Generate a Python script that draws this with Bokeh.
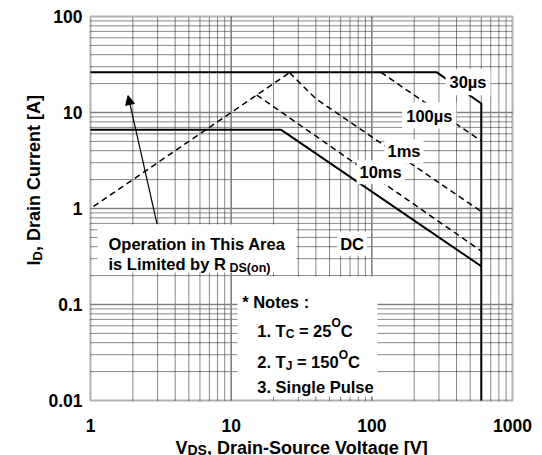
import math
from bokeh.plotting import figure
from bokeh.models import Range1d, Label, Arrow, NormalHead, BoxAnnotation
from bokeh.embed import file_html
from bokeh.resources import INLINE

# ---------------- data ----------------
x_major_ticks = [1, 10, 100, 1000]
x_tick_labels = ["1", "10", "100", "1000"]
x_minor_ticks = [2, 3, 4, 5, 6, 7, 8, 9, 20, 30, 40, 50, 60, 70, 80, 90,
                 200, 300, 400, 500, 600, 700, 800, 900]
y_major_ticks = [0.01, 0.1, 1, 10, 100]
y_tick_labels = ["0.01", "0.1", "1", "10", "100"]
y_minor_ticks = [0.02, 0.03, 0.04, 0.05, 0.06, 0.07, 0.08, 0.09,
                 0.2, 0.3, 0.4, 0.5, 0.6, 0.7, 0.8, 0.9,
                 2, 3, 4, 5, 6, 7, 8, 9, 20, 30, 40, 50, 60, 70, 80, 90]

# RDS(on) limit (dashed)
rds_v = [1.05, 26.0]
rds_i = [1.05, 26.0]
# 30 us (solid, incl. BVDSS vertical)
us30_v = [1.0, 290.0, 600.0, 600.0]
us30_i = [26.2, 26.2, 12.4, 0.01]
# 100 us (dashed)
us100_v = [116.0, 600.0]
us100_i = [26.2, 5.05]
# 1 ms (dashed)
ms1_v = [26.0, 40.0, 600.0]
ms1_i = [26.0, 13.9, 0.93]
# 10 ms (dashed)
ms10_v = [15.2, 600.0]
ms10_i = [15.2, 0.36]
# DC (solid)
dc_v = [1.0, 22.7, 600.0]
dc_i = [6.6, 6.6, 0.25]

arrow_from = [2.97, 0.69]
arrow_to = [1.85, 15.0]

FONT = "Liberation Sans"

# ---------------- layout constants (page pixels) ----------------
CW, CH = 540, 455                       # canvas
PL, PT, PR, PB = 90.0, 16.0, 512.0, 400.0   # plotting area edges
X_MIN, X_MAX = 1.0, 1000.0
Y_MIN, Y_MAX = 0.01, 100.0
dx = (math.log10(X_MAX) - math.log10(X_MIN)) / (PR - PL)
dy = (math.log10(Y_MAX) - math.log10(Y_MIN)) / (PB - PT)
x_lo = 10 ** (math.log10(X_MIN) - PL * dx)
x_hi = 10 ** (math.log10(X_MAX) + (CW - PR) * dx)
y_lo = 10 ** (math.log10(Y_MIN) - (CH - PB) * dy)
y_hi = 10 ** (math.log10(Y_MAX) + PT * dy)

p = figure(width=CW, height=CH, x_axis_type="log", y_axis_type="log",
           x_range=Range1d(x_lo, x_hi), y_range=Range1d(y_lo, y_hi),
           x_axis_location=None, y_axis_location=None, title=None,
           output_backend="svg", toolbar_location=None,
           min_border=0, min_border_left=0, min_border_right=0,
           min_border_top=0, min_border_bottom=0)
p.background_fill_color = "white"
p.border_fill_color = "white"
p.outline_line_color = None
p.xgrid.visible = False
p.ygrid.visible = False

# ---------------- grid ----------------
nxm, nym = len(x_minor_ticks), len(y_minor_ticks)
MINOR = dict(line_color="#111111", line_width=1, line_dash="1 1")
MAJOR = dict(line_color="#808080", line_width=1.6)
p.segment(x0=x_minor_ticks, y0=[Y_MIN] * nxm, x1=x_minor_ticks, y1=[Y_MAX] * nxm, **MINOR)
p.segment(x0=[X_MIN] * nym, y0=y_minor_ticks, x1=[X_MAX] * nym, y1=y_minor_ticks, **MINOR)
xm_in = x_major_ticks[1:-1]
ym_in = y_major_ticks[1:-1]
p.segment(x0=xm_in, y0=[Y_MIN] * len(xm_in), x1=xm_in, y1=[Y_MAX] * len(xm_in), **MAJOR)
p.segment(x0=[X_MIN] * len(ym_in), y0=ym_in, x1=[X_MAX] * len(ym_in), y1=ym_in, **MAJOR)

# ---------------- curves ----------------
SOLID = dict(line_color="black", line_width=2, line_join="round")
DASH = dict(line_color="black", line_width=1.5, line_dash="6 4", line_join="round")
p.line(rds_v, rds_i, **DASH)
p.line(ms1_v, ms1_i, **DASH)
p.line(ms10_v, ms10_i, **DASH)
p.line(us100_v, us100_i, **DASH)
p.line(us30_v, us30_i, **SOLID)
p.line(dc_v, dc_i, **SOLID)


def sbox(l, r, t, b):
    p.add_layout(BoxAnnotation(left=l, right=r, top=CH - t, bottom=CH - b,
                               left_units="screen", right_units="screen",
                               top_units="screen", bottom_units="screen",
                               fill_color="white", fill_alpha=1, line_color=None))


# white boxes behind the notes
sbox(97, 296, 224, 272)
sbox(237, 377, 276, 396)

# frame border
p.add_layout(BoxAnnotation(left=X_MIN, right=X_MAX, bottom=Y_MIN, top=Y_MAX,
                           fill_color=None, fill_alpha=0, line_color="black",
                           line_width=2))

# ---------------- text helpers ----------------
W = {' ': 278, '*': 389, '.': 278, ':': 333, ',': 278, '-': 333, '=': 584,
     '[': 333, ']': 333, '(': 333, ')': 333, 'A': 722, 'C': 722, 'D': 722,
     'I': 278, 'J': 556, 'L': 611, 'N': 722, 'O': 778, 'P': 667, 'R': 722,
     'S': 667, 'T': 611, 'V': 667, 'a': 556, 'b': 611, 'c': 556, 'd': 611,
     'e': 556, 'g': 611, 'h': 611, 'i': 278, 'l': 278, 'm': 889, 'n': 611,
     'o': 611, 'p': 611, 'r': 389, 's': 556, 't': 333, 'u': 611, 'y': 556,
     '\u00b5': 611}


def tw(s, size):
    return sum(W.get(c, 556) for c in s) * size / 1000.0


def lab(text, px, py, size, angle=0.0, bg=False, pad=0, align="left",
        baseline="alphabetic", xu="screen", yu="screen"):
    kw = {}
    if bg:
        kw = dict(background_fill_color="white", background_fill_alpha=1.0, padding=pad)
    y = py if yu == "data" else CH - py
    p.add_layout(Label(x=px, y=y, x_units=xu, y_units=yu,
                       text=text, text_font=FONT, text_font_style="bold",
                       text_font_size=f"{size}px", text_color="black",
                       text_baseline=baseline, text_align=align,
                       angle=angle, **kw))


def chain(parts, px, py):
    x = px
    for text, size, d in parts:
        lead = len(text) - len(text.lstrip(" "))
        x += tw(" " * lead, size)
        t = text.strip(" ")
        lab(t, x, py + d, size)
        x += tw(t, size)


# tick labels (placed through the log scales)
TK = 17.5
for v, t in zip(x_major_ticks, x_tick_labels):
    lab(t, v, 425.0, TK, align="center", xu="data")
for v, t in zip(y_major_ticks, y_tick_labels):
    lab(t, 82.0, v, TK, align="right", baseline="middle", yu="data")

TS = 16.5
# curve labels
lab("30\u00b5s", 445, 81.7, TS, bg=True, pad=4)
lab("100\u00b5s", 401.7, 115, TS, bg=True, pad=4)
lab("1ms", 384, 150.7, TS, bg=True, pad=3)
lab("10ms", 356, 171.7, TS, bg=True, pad=3)
lab("DC", 336.7, 243.3, TS, bg=True, pad=3)

# operation area note
lab("Operation in This Area", 108, 243.3, TS)
lab("is Limited by R", 108, 263.3, TS)
lab("DS(on)", 229, 267.3, 12.5)

# notes
lab("* Notes :", 241.7, 301.7, TS)
chain([("1. T", TS, 0), ("C", 12, 3.5), (" = 25", TS, 0), ("O", 12, -7.5), ("C", TS, 0)], 256.7, 330)
chain([("2. T", TS, 0), ("J", 12, 3.5), (" = 150", TS, 0), ("O", 12, -7.5), ("C", TS, 0)], 256.7, 361.7)
lab("3. Single Pulse", 256.7, 386.7, TS)

# arrow
p.add_layout(Arrow(end=NormalHead(size=9, fill_color="black", line_color="black"),
                   x_start=arrow_from[0], y_start=arrow_from[1],
                   x_end=arrow_to[0], y_end=arrow_to[1],
                   line_color="black", line_width=1.2))

# axis titles
chain([("V", 18, 0), ("DS", 14, 2.0), (", Drain-Source Voltage [V]", 18, 0)], 175.0, 447.0)

yy = 265.0
for t, size, d in [("I", 18, 0), ("D", 13, 3.5), (", Drain Current [A]", 18, 0)]:
    lab(t, 33.3 + d, yy, size, angle=math.pi / 2)
    yy -= tw(t, size)

open("out.html", "w").write(file_html(p, INLINE))
